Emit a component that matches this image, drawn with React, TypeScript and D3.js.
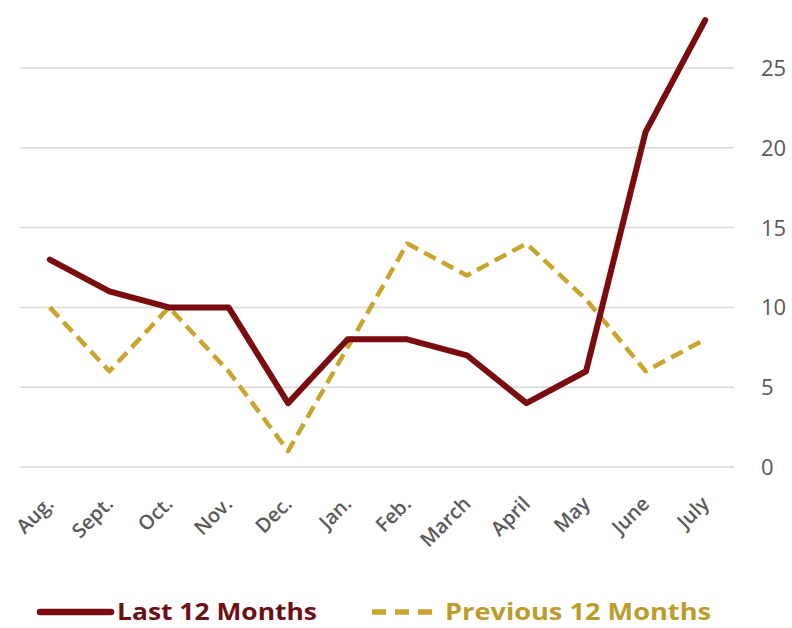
import React from "react";
import * as d3 from "d3";

const months = ["Aug.", "Sept.", "Oct.", "Nov.", "Dec.", "Jan.", "Feb.", "March", "April", "May", "June", "July"];
const last12 = [13, 11, 10, 10, 4, 8, 8, 7, 4, 6, 21, 28];
const prev12 = [10, 6, 10, 6, 1, 7.5, 14, 12, 14, 10.5, 6, 8];
const yTicks = [0, 5, 10, 15, 20, 25];
const seriesNames = ["Last 12 Months", "Previous 12 Months"];

const W = 792;
const H = 628;
const MAROON = "#7a0b0e";
const GOLD = "#c9a52c";
const FONT = "'Open Sans', 'Liberation Sans', sans-serif";

export default function App() {
  const x = d3.scalePoint<string>().domain(months).range([20, 735]).padding(0.5);
  const y = d3.scaleLinear().domain([0, 25]).range([467, 68]);
  const line = d3
    .line<number>()
    .x((_, i) => x(months[i]) as number)
    .y((d) => y(d));

  return (
    <svg width={W} height={H} style={{ position: "absolute", left: 0, top: 0, background: "#fff" }}>
      {yTicks.map((t) => (
        <g key={t}>
          <line x1={20} x2={734} y1={y(t)} y2={y(t)} stroke="#d9d9d9" strokeWidth={1.5} />
          <text x={761} y={y(t)} dy="0.36em" fontFamily={FONT} fontSize={22} fontWeight={500} fill="#595959">
            {t}
          </text>
        </g>
      ))}
      {months.map((m) => (
        <text
          key={m}
          transform={`translate(${(x(m) as number) + 5},505) rotate(-45)`}
          textAnchor="end"
          fontFamily={FONT}
          fontSize={20}
          fontWeight={600}
          fill="#595959"
        >
          {m}
        </text>
      ))}
      <path d={line(prev12) || ""} fill="none" stroke={GOLD} strokeWidth={4.5} strokeDasharray="13 7" strokeLinejoin="round" />
      <path d={line(last12) || ""} fill="none" stroke={MAROON} strokeWidth={6} strokeLinejoin="round" strokeLinecap="round" />
      <g>
        <line x1={40} x2={111} y1={612} y2={612} stroke={MAROON} strokeWidth={6.5} strokeLinecap="round" />
        <text x={117} y={620} fontFamily={FONT} fontSize={24} fontWeight={700} fill="#6e0f14" textLength={200} lengthAdjust="spacingAndGlyphs">
          {seriesNames[0]}
        </text>
        <line x1={372} x2={434} y1={612} y2={612} stroke={GOLD} strokeWidth={5.5} strokeDasharray="14 9" />
        <text x={445} y={620} fontFamily={FONT} fontSize={24} fontWeight={700} fill="#bc9d2c" textLength={266} lengthAdjust="spacingAndGlyphs">
          {seriesNames[1]}
        </text>
      </g>
    </svg>
  );
}
